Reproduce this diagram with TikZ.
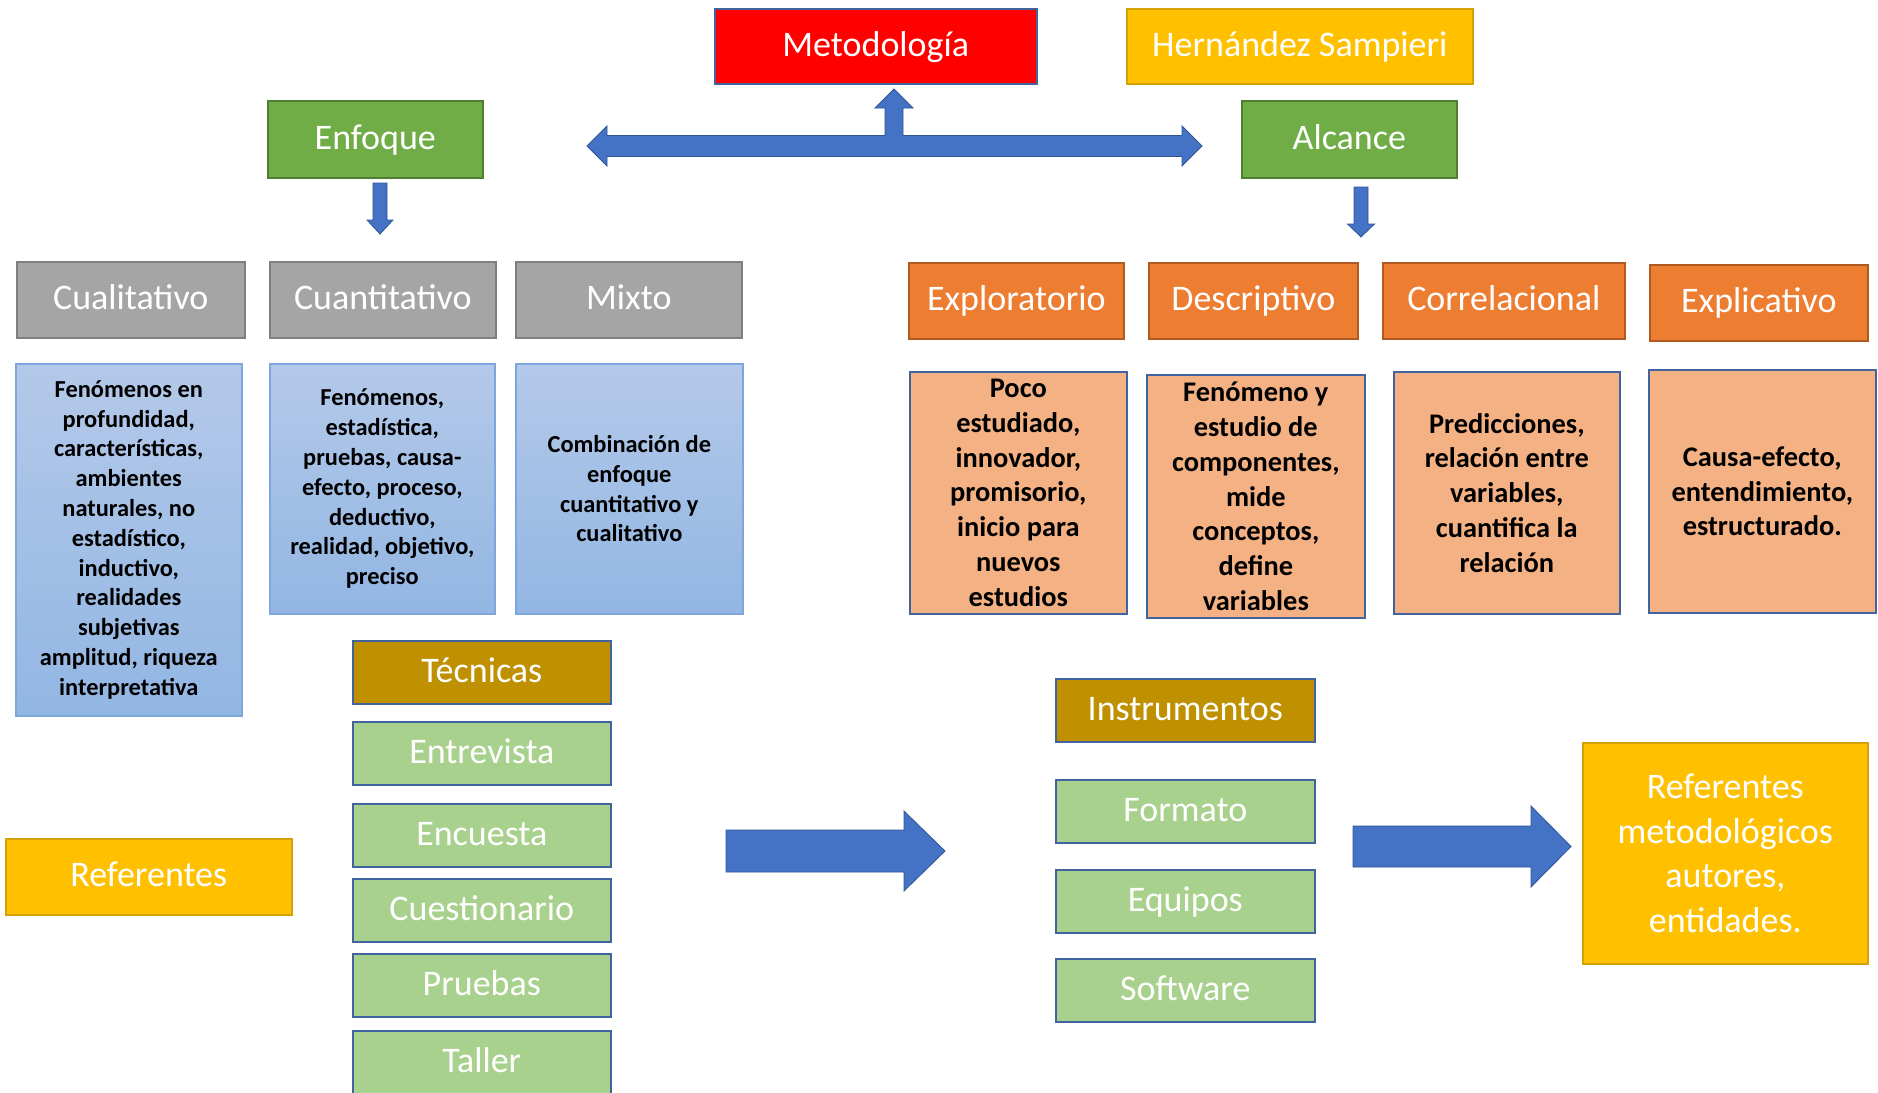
\documentclass[tikz,border=0pt]{standalone}
\usepackage{fontspec}
\setmainfont{Carlito}
\definecolor{cRed}{HTML}{FF0000}
\definecolor{cGold}{HTML}{FFC000}
\definecolor{cGoldLine}{HTML}{D4A106}
\definecolor{cGreen}{HTML}{70AD47}
\definecolor{cGreenLine}{HTML}{507E32}
\definecolor{cGrey}{HTML}{A5A5A5}
\definecolor{cGreyLine}{HTML}{7F7F7F}
\definecolor{cOrange}{HTML}{ED7D31}
\definecolor{cOrangeLine}{HTML}{AE5A21}
\definecolor{cPeach}{HTML}{F4B183}
\definecolor{cBlueLine}{HTML}{41649E}
\definecolor{cSkyTop}{HTML}{B4C9E9}
\definecolor{cSkyBot}{HTML}{92B6E3}
\definecolor{cSkyLine}{HTML}{7EA6DC}
\definecolor{cDarkGold}{HTML}{BF9000}
\definecolor{cLightGreen}{HTML}{A9D18E}
\definecolor{cArrow}{HTML}{4472C4}
\definecolor{cArrowLine}{HTML}{2F5597}
\begin{document}
\begin{tikzpicture}[x=0.5pt,y=-0.5pt,
  base/.style={draw, line width=0.8pt, inner sep=0pt, anchor=north west, align=center},
  hdr/.style={base, text=white, font=\fontsize{18}{22.4}\selectfont},
  one/.style={hdr, text height=13pt, text depth=3pt},
  bluedesc/.style={base, draw=cSkyLine, top color=cSkyTop, bottom color=cSkyBot, text=black,
     font=\bfseries\fontsize{12.2}{14.9}\selectfont},
  peachdesc/.style={base, draw=cBlueLine, fill=cPeach, text=black,
     font=\bfseries\fontsize{14.2}{17.4}\selectfont},
  greyhdr/.style={one, fill=cGrey, draw=cGreyLine, minimum height=38pt},
  orangehdr/.style={one, fill=cOrange, draw=cOrangeLine, minimum height=38pt},
  greenhdr/.style={one, fill=cGreen, draw=cGreenLine, minimum height=38.5pt, minimum width=107.5pt},
  goldhdr/.style={one, fill=cDarkGold, draw=cBlueLine, minimum height=31.5pt},
  item/.style={one, fill=cLightGreen, draw=cBlueLine, minimum height=31.5pt},
  blockarrow/.style={fill=cArrow, draw=cArrowLine, line width=0.4pt}
]
\useasboundingbox (0,0) rectangle (1878,1092);

% top row
\node[one, fill=cRed, draw=cBlueLine, minimum width=161pt, minimum height=37.5pt] (met) at (714,8) {Metodología};
\node[one, fill=cGold, draw=cGoldLine, minimum width=173pt, minimum height=37.5pt] (hs) at (1126,8) {Hernández Sampieri};
\node[greenhdr] (enf) at (267,100) {Enfoque};
\node[greenhdr] (alc) at (1241,100) {Alcance};

% double arrow with up branch
\draw[blockarrow] (587,146) -- (607,126) -- (607,135.5) -- (885,135.5) -- (885,108) -- (875,108)
  -- (894,89) -- (913,108) -- (903,108) -- (903,135.5) -- (1182,135.5) -- (1182,126)
  -- (1202,146) -- (1182,166) -- (1182,156.5) -- (607,156.5) -- (607,166) -- cycle;

% down arrows
\draw[blockarrow] (373,183) -- (387,183) -- (387,220) -- (393,220) -- (380,234) -- (367,220) -- (373,220) -- cycle;
\draw[blockarrow] (1354,187) -- (1368,187) -- (1368,224) -- (1374.5,224) -- (1361,237) -- (1347.5,224) -- (1354,224) -- cycle;

% enfoque types
\node[greyhdr, minimum width=114pt] (cual) at (16,261) {Cualitativo};
\node[greyhdr, minimum width=113pt] (cuan) at (269,261) {Cuantitativo};
\node[greyhdr, minimum width=113pt] (mix) at (515,261) {Mixto};

% alcance types
\node[orangehdr, minimum width=107.5pt] (expl) at (908,262) {Exploratorio};
\node[orangehdr, minimum width=104.5pt] (desc) at (1148,262) {Descriptivo};
\node[orangehdr, minimum width=121pt] (corr) at (1382,262) {Correlacional};
\node[orangehdr, minimum width=109pt] (expc) at (1649,264) {Explicativo};

% blue descriptions
\node[bluedesc, minimum width=113pt, minimum height=176pt] (dcual) at (15,363)
  {Fenómenos en\\profundidad,\\características,\\ambientes\\naturales, no\\estadístico,\\inductivo,\\realidades\\subjetivas\\amplitud, riqueza\\interpretativa};
\node[bluedesc, minimum width=112.5pt, minimum height=125pt] (dcuan) at (269,363)
  {Fenómenos,\\estadística,\\pruebas, causa-\\efecto, proceso,\\deductivo,\\realidad, objetivo,\\preciso};
\node[bluedesc, minimum width=113.5pt, minimum height=125pt] (dmix) at (515,363)
  {Combinación de\\enfoque\\cuantitativo y\\cualitativo};

% peach descriptions
\node[peachdesc, minimum width=108.5pt, minimum height=121pt] (dexpl) at (909,371)
  {Poco\\estudiado,\\innovador,\\promisorio,\\inicio para\\nuevos\\estudios};
\node[peachdesc, minimum width=109pt, minimum height=121.5pt] (ddesc) at (1146,374)
  {Fenómeno y\\estudio de\\componentes,\\mide\\conceptos,\\define\\variables};
\node[peachdesc, minimum width=113pt, minimum height=121pt] (dcorr) at (1393,371)
  {Predicciones,\\relación entre\\variables,\\cuantifica la\\relación};
\node[peachdesc, minimum width=113.5pt, minimum height=121.5pt] (dexpc) at (1648,369)
  {Causa-efecto,\\entendimiento,\\estructurado.};

% tecnicas
\node[goldhdr, minimum width=129pt] (tec) at (352,640) {Técnicas};
\node[item, minimum width=129pt] (entr) at (352,721) {Entrevista};
\node[item, minimum width=129pt] (encu) at (352,803) {Encuesta};
\node[item, minimum width=129pt] (cues) at (352,878) {Cuestionario};
\node[item, minimum width=129pt] (prue) at (352,953) {Pruebas};
\node[item, minimum width=129pt, minimum height=32pt] (tall) at (352,1030) {Taller};

\node[one, fill=cGold, draw=cGoldLine, minimum width=143pt, minimum height=38pt] (ref) at (5,838) {Referentes};

% instrumentos
\node[goldhdr, minimum width=129.5pt] (inst) at (1055,678) {Instrumentos};
\node[item, minimum width=129.5pt] (form) at (1055,779) {Formato};
\node[item, minimum width=129.5pt] (equi) at (1055,869) {Equipos};
\node[item, minimum width=129.5pt] (soft) at (1055,958) {Software};

\node[hdr, fill=cGold, draw=cGoldLine, minimum width=142.5pt, minimum height=110.5pt] (refm) at (1582,742)
  {Referentes\\metodológicos\\autores,\\entidades.};

% big arrows
\draw[blockarrow] (726,830) -- (904,830) -- (904,811) -- (945,851) -- (904,891) -- (904,872) -- (726,872) -- cycle;
\draw[blockarrow] (1353,826) -- (1531,826) -- (1531,806) -- (1571,846.5) -- (1531,887) -- (1531,867) -- (1353,867) -- cycle;
\end{tikzpicture}
\end{document}
